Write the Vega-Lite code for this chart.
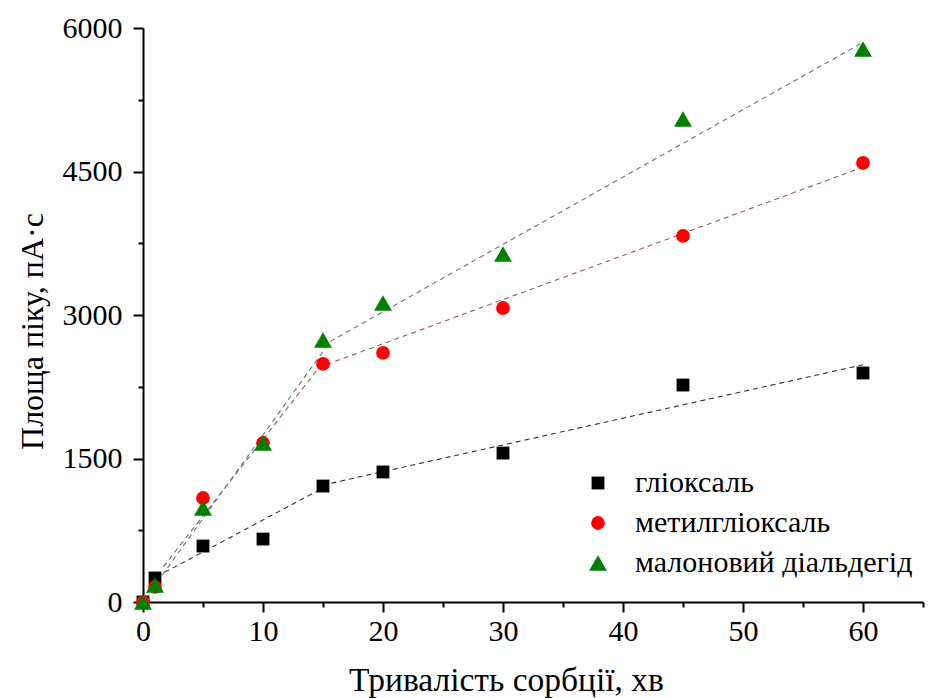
{
  "$schema": "https://vega.github.io/schema/vega-lite/v6.json",
  "width": 780,
  "height": 574,
  "autosize": "none",
  "padding": {"left": 143, "top": 28, "right": 18, "bottom": 96},
  "background": "white",
  "config": {
    "view": {"stroke": null},
    "font": "Liberation Serif, Times New Roman, serif",
    "axis": {
      "domainColor": "black",
      "domainWidth": 2,
      "tickColor": "black",
      "tickWidth": 2,
      "grid": false,
      "labelFont": "Liberation Serif, Times New Roman, serif",
      "labelFontSize": 30,
      "labelColor": "black",
      "titleFont": "Liberation Serif, Times New Roman, serif",
      "titleFontWeight": "normal",
      "titleColor": "black"
    },
    "legend": {
      "labelFont": "Liberation Serif, Times New Roman, serif"
    }
  },
  "datasets": {
    "points": [
      {"t": 0, "area": 0, "series": "гліоксаль"},
      {"t": 1, "area": 251, "series": "гліоксаль"},
      {"t": 5, "area": 585, "series": "гліоксаль"},
      {"t": 10, "area": 658, "series": "гліоксаль"},
      {"t": 15, "area": 1212, "series": "гліоксаль"},
      {"t": 20, "area": 1359, "series": "гліоксаль"},
      {"t": 30, "area": 1557, "series": "гліоксаль"},
      {"t": 45, "area": 2268, "series": "гліоксаль"},
      {"t": 60, "area": 2394, "series": "гліоксаль"},
      {"t": 0, "area": 0, "series": "метилгліоксаль"},
      {"t": 1, "area": 157, "series": "метилгліоксаль"},
      {"t": 5, "area": 1087, "series": "метилгліоксаль"},
      {"t": 10, "area": 1662, "series": "метилгліоксаль"},
      {"t": 15, "area": 2488, "series": "метилгліоксаль"},
      {"t": 20, "area": 2603, "series": "метилгліоксаль"},
      {"t": 30, "area": 3073, "series": "метилгліоксаль"},
      {"t": 45, "area": 3826, "series": "метилгліоксаль"},
      {"t": 60, "area": 4589, "series": "метилгліоксаль"},
      {"t": 0, "area": 0, "series": "малоновий діальдегід"},
      {"t": 1, "area": 178, "series": "малоновий діальдегід"},
      {"t": 5, "area": 983, "series": "малоновий діальдегід"},
      {"t": 10, "area": 1662, "series": "малоновий діальдегід"},
      {"t": 15, "area": 2739, "series": "малоновий діальдегід"},
      {"t": 20, "area": 3125, "series": "малоновий діальдегід"},
      {"t": 30, "area": 3637, "series": "малоновий діальдегід"},
      {"t": 45, "area": 5049, "series": "малоновий діальдегід"},
      {"t": 60, "area": 5780, "series": "малоновий діальдегід"}
    ],
    "fits": [
      {"t": 1.8, "area": 310, "series": "гліоксаль"},
      {"t": 15.8, "area": 1245, "series": "гліоксаль"},
      {"t": 60, "area": 2480, "series": "гліоксаль"},
      {"t": 1.7, "area": 370, "series": "метилгліоксаль"},
      {"t": 14.7, "area": 2455, "series": "метилгліоксаль"},
      {"t": 60, "area": 4545, "series": "метилгліоксаль"},
      {"t": 1.6, "area": 280, "series": "малоновий діальдегід"},
      {"t": 15.6, "area": 2724, "series": "малоновий діальдегід"},
      {"t": 60, "area": 5850, "series": "малоновий діальдегід"}
    ]
  },
  "encoding": {
    "x": {
      "field": "t",
      "type": "quantitative",
      "scale": {"domain": [0, 65], "nice": false, "zero": false},
      "axis": {
        "title": "Тривалість сорбції, хв",
        "titleFontSize": 33.5,
        "values": [0, 5, 10, 15, 20, 25, 30, 35, 40, 45, 50, 55, 60, 65],
        "labelExpr": "datum.value % 10 === 0 ? datum.label : ''",
        "tickSize": {"condition": {"test": "datum.value % 10 === 0", "value": 10}, "value": 5},
        "labelPadding": 4,
        "labelFlush": false,
        "labelOverlap": false,
        "titleX": 363,
        "titleY": 88,
        "titleBaseline": "alphabetic",
        "titleAlign": "center",
        "titleAnchor": null
      }
    },
    "y": {
      "field": "area",
      "type": "quantitative",
      "scale": {"domain": [0, 6000], "nice": false},
      "axis": {
        "title": "Площа піку, пА·с",
        "titleFontSize": 32,
        "values": [0, 750, 1500, 2250, 3000, 3750, 4500, 5250, 6000],
        "labelExpr": "datum.value % 1500 === 0 ? datum.value : ''",
        "tickSize": {"condition": {"test": "datum.value % 1500 === 0", "value": 10}, "value": 5},
        "labelPadding": 11,
        "labelFlush": false,
        "labelOverlap": false,
        "titleX": -101,
        "titleY": 303,
        "titleAngle": 270,
        "titleBaseline": "alphabetic",
        "titleAlign": "center",
        "titleAnchor": null
      }
    }
  },
  "layer": [
    {
      "data": {"name": "fits"},
      "transform": [{"filter": "datum.series === 'гліоксаль'"}],
      "mark": {"type": "line", "strokeWidth": 1.1, "strokeDash": [5, 4], "color": "#333333"},
      "encoding": {}
    },
    {
      "data": {"name": "fits"},
      "transform": [{"filter": "datum.series === 'метилгліоксаль'"}],
      "mark": {"type": "line", "strokeWidth": 1.1, "strokeDash": [5, 4], "color": "#9a5a66"},
      "encoding": {}
    },
    {
      "data": {"name": "fits"},
      "transform": [{"filter": "datum.series === 'малоновий діальдегід'"}],
      "mark": {"type": "line", "strokeWidth": 1.1, "strokeDash": [5, 4], "color": "#5f7a66"},
      "encoding": {}
    },
    {
      "data": {"name": "points"},
      "mark": {"type": "point", "filled": true, "opacity": 1, "strokeWidth": 0},
      "encoding": {
        "color": {
          "field": "series",
          "type": "nominal",
          "sort": null,
          "scale": {
            "domain": ["гліоксаль", "метилгліоксаль", "малоновий діальдегід"],
            "range": ["#000000", "#ff0000", "#008000"]
          },
          "legend": {
            "title": null,
            "orient": "none",
            "legendX": 440,
            "legendY": 440,
            "labelFont": "Liberation Serif, Times New Roman, serif",
            "labelFontSize": 30,
            "labelColor": "black",
            "labelLimit": 400,
            "rowPadding": 10,
            "labelOffset": 22,
            "symbolSize": 160
          }
        },
        "shape": {
          "field": "series",
          "type": "nominal",
          "sort": null,
          "scale": {
            "domain": ["гліоксаль", "метилгліоксаль", "малоновий діальдегід"],
            "range": ["square", "circle", "triangle-up"]
          }
        },
        "size": {
          "field": "series",
          "type": "nominal",
          "sort": null,
          "scale": {
            "type": "ordinal",
            "domain": ["гліоксаль", "метилгліоксаль", "малоновий діальдегід"],
            "range": [165, 190, 320]
          },
          "legend": null
        }
      }
    }
  ]
}
